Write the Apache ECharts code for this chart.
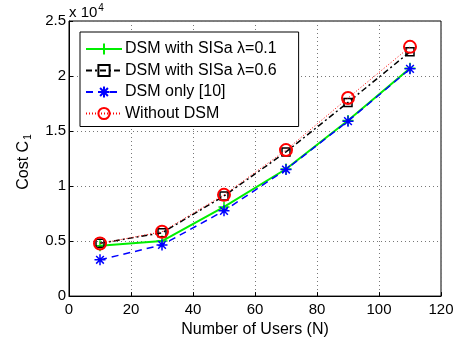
<!DOCTYPE html>
<html>
<head>
<meta charset="utf-8">
<script src="https://cdn.jsdelivr.net/npm/echarts@6/dist/echarts.min.js"></script>
<style>
  html, body { margin: 0; padding: 0; background: #fff; }
  #chart { width: 461px; height: 343px; }
</style>
</head>
<body>
<div id="chart"></div>
<script>
const users = [10, 30, 50, 70, 90, 110]
const sisa01 = [4570, 5000, 8100, 11550, 15950, 20700]
const sisa06 = [4800, 5750, 9100, 13100, 17600, 22200]
const dsmOnly = [3300, 4650, 7750, 11500, 15900, 20650]
const withoutDsm = [4780, 5850, 9200, 13270, 18000, 22650]
const yTicks = [0, 5000, 10000, 15000, 20000, 25000]

const font = 'Liberation Sans, Arial, Helvetica, sans-serif'
const plus = 'path://M0,-10L0,10M-10,0L10,0'
const star = 'path://M0,-10L0,10M-10,0L10,0M-7,-7L7,7M-7,7L7,-7'

function pairs(ys) {
  return users.map((x, i) => [x, ys[i]])
}

const chart = echarts.init(document.getElementById('chart'))
chart.setOption({
  animation: false,
  textStyle: { fontFamily: font },
  grid: {
    left: 69,
    right: 20,
    top: 21,
    bottom: 45,
    show: true,
    borderColor: '#000',
    borderWidth: 1
  },
  legend: {
    orient: 'vertical',
    left: 80,
    top: 32,
    padding: [9, 22, 5, 5],
    itemGap: 5.5,
    itemWidth: 36,
    itemHeight: 14,
    backgroundColor: '#fff',
    borderColor: '#000',
    borderWidth: 1,
    borderRadius: 0,
    textStyle: { fontSize: 16, color: '#000', fontFamily: font, padding: [0, 0, 0, -2] }
  },
  xAxis: {
    type: 'value',
    min: 0,
    max: 120,
    interval: 20,
    name: 'Number of Users (N)',
    nameLocation: 'middle',
    nameGap: 24,
    nameTextStyle: { fontSize: 16, color: '#000' },
    axisLine: { lineStyle: { color: '#000', width: 1 } },
    axisTick: { inside: true, length: 4, lineStyle: { color: '#000' } },
    axisLabel: { color: '#000', fontSize: 15, margin: 6 },
    splitLine: { lineStyle: { type: [1, 3], color: '#777' } }
  },
  yAxis: {
    type: 'value',
    min: 0,
    max: 25000,
    interval: 5000,
    axisLine: { show: true, lineStyle: { color: '#000', width: 1 } },
    axisTick: { show: true, inside: true, length: 4, lineStyle: { color: '#000' } },
    axisLabel: {
      color: '#000',
      fontSize: 15,
      margin: 3,
      formatter: v => (yTicks.includes(v) ? String(v / 10000) : '')
    },
    splitLine: { lineStyle: { type: [1, 3], color: '#777' } }
  },
  graphic: [
    {
      type: 'text',
      left: 69,
      top: 3,
      style: {
        text: 'x 10{sup|4}',
        font: '15px ' + font,
        fill: '#000',
        rich: { sup: { fontSize: 10, verticalAlign: 'top', padding: [0, 0, 9, 1] } }
      }
    },
    {
      type: 'text',
      x: 24,
      y: 162,
      rotation: Math.PI / 2,
      style: {
        text: 'Cost C{sub|1}',
        font: '16px ' + font,
        fill: '#000',
        align: 'center',
        verticalAlign: 'middle',
        rich: { sub: { fontSize: 10, padding: [8, 0, 0, 1] } }
      }
    }
  ],
  series: [
    {
      name: 'DSM with SISa λ=0.1',
      type: 'line',
      data: pairs(sisa01),
      symbol: plus,
      symbolSize: 11,
      itemStyle: { color: '#00ee00', borderColor: '#00ee00', borderWidth: 1.5 },
      lineStyle: { color: '#00ee00', width: 2 },
      z: 3
    },
    {
      name: 'DSM with SISa λ=0.6',
      type: 'line',
      data: pairs(sisa06),
      symbol: 'rect',
      symbolSize: 8,
      itemStyle: { color: 'transparent', borderColor: '#000', borderWidth: 1.5 },
      lineStyle: { color: '#000', width: 1.5, type: [6, 3, 2, 3] },
      z: 4
    },
    {
      name: 'DSM only [10]',
      type: 'line',
      data: pairs(dsmOnly),
      symbol: star,
      symbolSize: 11,
      itemStyle: { color: '#0000ff', borderColor: '#0000ff', borderWidth: 1.5 },
      lineStyle: { color: '#0000ff', width: 1.5, type: [7, 5] },
      z: 5
    },
    {
      name: 'Without DSM',
      type: 'line',
      data: pairs(withoutDsm),
      symbol: 'circle',
      symbolSize: 12,
      itemStyle: { color: 'transparent', borderColor: '#ff0000', borderWidth: 2 },
      lineStyle: { color: '#ff0000', width: 1, type: [1, 2] },
      z: 6
    }
  ]
})
</script>
</body>
</html>
